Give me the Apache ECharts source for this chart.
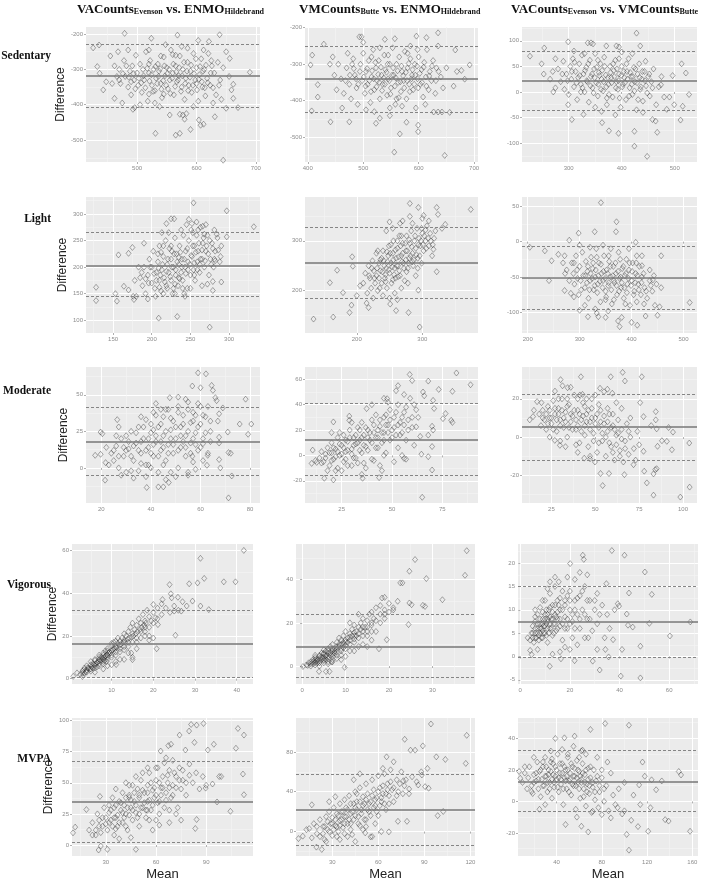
<!DOCTYPE html>
<html><head><meta charset="utf-8">
<script src="https://cdn.jsdelivr.net/npm/echarts@6/dist/echarts.min.js"></script>
<style>html,body{margin:0;padding:0;background:#fff}#c{width:709px;height:882px}</style>
</head><body><div id="c"></div><script>
// ---------------- DATA (mean, difference) ----------------
const colTitles = [
  ['VACounts','Evenson',' vs. ENMO','Hildebrand'],
  ['VMCounts','Butte',' vs. ENMO','Hildebrand'],
  ['VACounts','Evenson',' vs. VMCounts','Butte']
];
const rowNames = ['Sedentary','Light','Moderate','Vigorous','MVPA'];

const sedVAvsENMO = [[479,-198],[639,-202],[524,-212],[568,-203],[603,-218],[621,-221],[426,-239],[436,-231],[531,-481],[565,-486],[572,-481],[590,-470],[604,-443],[607,-458],[612,-455],[631,-434],[645,-557],[690,-308],[656,-269],[670,-408],[650,-410],[662,-382],[659,-358],[662,-342],[493,-413],[496,-408],[443,-358],[448,-335],[437,-311],[433,-292],[580,-441],[583,-425],[577,-429],[572,-427],[555,-429],
[455,-262],[462,-290],[470,-300],[472,-340],[478,-275],[480,-320],[485,-350],[488,-305],[490,-372],[492,-290],[495,-330],[498,-260],[500,-310],[502,-345],[505,-285],[508,-365],[510,-300],[512,-330],[515,-250],[518,-390],[520,-310],[522,-275],[525,-345],[528,-300],[530,-360],[532,-325],[535,-285],[537,-305],[540,-340],[542,-380],[545,-265],[547,-318],[550,-295],[552,-355],[555,-330],[557,-245],[560,-310],[562,-372],[565,-290],[567,-335],[570,-318],[572,-262],[575,-350],[577,-300],[580,-385],[582,-325],[585,-280],[587,-345],[590,-305],[592,-365],[595,-255],[598,-330],[600,-295],[603,-390],[605,-315],[608,-270],[610,-350],[613,-300],[615,-375],[618,-325],[620,-255],[623,-345],[626,-290],[630,-310],[633,-372],[636,-280],[640,-330],[645,-295],[650,-250],[655,-320],[462,-382],[475,-395],[505,-400],[520,-245],[538,-405],[548,-230],[485,-245],[468,-250],[612,-245],[628,-395],[642,-385],[470,-330],[458,-340],[530,-395],[545,-370],[565,-260],[575,-235],[595,-405],[600,-340],[585,-240],[520,-370]];
const sedVAvsENMOcore = [[503,-325],[507,-338],[511,-318],[514,-352],[517,-297],[521,-333],[524,-315],[527,-362],[531,-292],[534,-340],[536,-320],[539,-298],[541,-356],[544,-332],[546,-290],[549,-345],[551,-312],[554,-300],[556,-368],[559,-325],[561,-285],[564,-348],[566,-307],[569,-330],[571,-295],[574,-362],[576,-318],[579,-280],[581,-340],[584,-305],[586,-360],[589,-322],[591,-288],[594,-345],[596,-312],[599,-270],[601,-358],[604,-328],[606,-292],[609,-335],[611,-305],[614,-352],[616,-288],[619,-338],[624,-310],[628,-352],[490,-335],[494,-312],[497,-355],[486,-322],[482,-290],[476,-312],[466,-320],[625,-275],[638,-345],[560,-258],[540,-262],[520,-285]];

const sedVMvsENMO = [[635,-214],[596,-223],[614,-227],[493,-225],[497,-225],[557,-230],[539,-232],[429,-245],[408,-275],[405,-302],[418,-356],[418,-390],[407,-428],[441,-458],[475,-458],[666,-261],[692,-302],[677,-317],[669,-320],[683,-341],[663,-360],[644,-365],[656,-432],[642,-431],[635,-431],[627,-431],[566,-491],[556,-541],[647,-550],[599,-485],[599,-467],[578,-459],[523,-462],[548,-441],[530,-448],
[455,-300],[460,-340],[465,-380],[470,-310],[475,-355],[478,-395],[482,-285],[485,-330],[488,-365],[490,-410],[495,-300],[498,-345],[500,-270],[503,-380],[505,-320],[508,-355],[510,-290],[513,-405],[515,-335],[518,-260],[520,-370],[523,-310],[525,-345],[528,-290],[530,-395],[533,-330],[535,-355],[538,-275],[540,-315],[543,-385],[545,-340],[548,-300],[550,-365],[553,-255],[555,-330],[558,-410],[560,-300],[563,-350],[565,-280],[568,-375],[570,-320],[573,-345],[575,-265],[578,-395],[580,-310],[583,-355],[585,-285],[588,-330],[590,-370],[593,-300],[595,-420],[598,-340],[600,-280],[603,-355],[605,-315],[608,-390],[610,-295],[613,-335],[615,-260],[618,-370],[620,-320],[623,-345],[626,-290],[630,-380],[632,-310],[635,-250],[640,-335],[612,-410],[530,-255],[548,-420],[472,-270],[462,-420],[585,-250],[505,-425],[520,-430],[500,-240],[480,-300],[570,-415],[598,-260],[448,-330],[452,-370],[440,-300],[445,-280],[650,-310]];
const sedVMvsENMOcore = [[501,-335],[504,-360],[507,-312],[511,-345],[514,-375],[516,-318],[519,-340],[522,-295],[524,-362],[527,-328],[529,-350],[532,-308],[534,-372],[537,-338],[539,-355],[542,-322],[544,-300],[547,-345],[549,-382],[552,-330],[554,-310],[557,-360],[559,-338],[562,-318],[564,-392],[567,-348],[569,-305],[572,-332],[574,-365],[577,-322],[579,-345],[582,-298],[584,-375],[587,-340],[589,-315],[592,-355],[594,-330],[597,-305],[599,-365],[602,-325],[606,-350],[609,-308],[614,-360],[619,-332],[624,-305],[494,-320],[491,-355],[487,-340],[483,-312],[476,-330],[468,-345],[631,-345],[636,-320],[515,-280],[545,-275],[580,-270],[560,-395]];

const sedVAvsVM = [[227,70],[254,86],[249,55],[253,35],[299,98],[336,96],[342,96],[346,94],[371,90],[390,90],[428,115],[435,90],[513,55],[521,37],[527,-5],[515,-28],[511,-55],[499,-25],[496,32],[467,-79],[448,-126],[424,-106],[424,-77],[394,-81],[376,-76],[363,-60],[306,-54],[328,-44],[299,-25],[323,0],[271,0],[275,8],[458,-54],[464,-57],[485,-34],[490,-10],[474,14],
[280,45],[285,20],[290,60],[292,5],[296,35],[300,-5],[303,50],[305,25],[308,65],[310,10],[313,40],[316,-15],[318,28],[320,55],[323,15],[325,72],[328,35],[330,0],[333,48],[335,20],[338,-20],[340,62],[342,30],[345,8],[348,45],[350,75],[352,18],[355,-8],[357,38],[360,55],[362,25],[365,2],[367,68],[370,33],[372,-25],[375,15],[378,50],[380,28],[383,-10],[385,42],[388,62],[390,20],[393,5],[395,35],[398,-30],[400,50],[402,15],[405,28],[408,-15],[410,40],[413,65],[415,8],[418,30],[420,-5],[423,48],[425,20],[428,-35],[430,35],[433,55],[435,5],[438,25],[440,-18],[443,40],[446,12],[450,30],[453,-8],[456,20],[460,45],[465,-25],[470,10],[475,30],[480,-10],[310,80],[350,-30],[400,78],[420,75],[445,60],[362,-38],[330,75],[270,40],[275,65],[265,25],[388,-45],[440,-40],[395,88]];
const sedVAvsVMcore = [[321,32],[326,8],[331,42],[334,22],[337,55],[341,12],[344,35],[347,-2],[349,28],[353,48],[356,15],[358,32],[361,5],[363,42],[366,20],[368,50],[371,10],[374,28],[376,-5],[379,38],[381,18],[384,55],[386,30],[389,8],[391,45],[394,22],[396,-12],[399,32],[401,10],[404,40],[406,18],[409,55],[411,25],[414,-8],[416,38],[419,15],[421,30],[424,2],[426,45],[429,18],[431,-15],[434,28],[436,10],[439,40],[444,22],[448,-2],[452,35],[458,8],[306,40],[311,58],[315,18],[298,22],[288,35],[395,65],[355,62],[372,-12]];

const lightVAvsENMO = [[128,162],[128,137],[157,223],[155,136],[153,150],[170,226],[175,237],[190,245],[209,104],[233,107],[275,87],[254,321],[297,306],[332,276],[297,257],[290,172],[279,156],[279,173],[229,291],[225,291],[219,282],[213,265],[252,282],[266,277],[281,270],[282,212],[243,145],[177,139],[176,145],[170,157],[164,164],
[185,180],[188,165],[190,200],[192,150],[195,185],[197,215],[200,170],[200,200],[202,230],[204,160],[206,190],[208,210],[210,175],[210,240],[212,155],[213,195],[215,220],[216,180],[218,250],[219,165],[220,205],[222,190],[223,235],[225,175],[225,215],[227,150],[228,200],[230,255],[231,185],[232,225],[234,165],[235,205],[236,240],[238,190],[239,215],[240,175],[241,260],[243,200],[244,230],[246,160],[247,210],[248,250],[250,185],[251,270],[252,220],[254,195],[255,240],[256,175],[258,260],[259,210],[260,230],[262,190],[263,275],[265,215],[266,245],[268,200],[270,230],[272,260],[274,185],[276,215],[278,245],[280,200],[282,230],[285,255],[288,210],[290,240],[245,280],[238,270],[222,265],[215,150],[205,145],[195,140],[230,150],[250,160],[265,165],[272,168],[183,200],[178,175],[180,145],[258,285],[248,290],[225,240],[212,228],[236,178],[228,160],[242,150],[284,262],[270,280]];
const lightVAvsENMOcore = [[203,188],[206,175],[209,198],[211,185],[214,205],[217,172],[219,192],[221,215],[224,182],[226,200],[229,225],[231,195],[233,210],[235,180],[237,228],[239,200],[242,215],[244,188],[246,235],[249,205],[251,222],[253,240],[255,208],[257,228],[259,195],[261,245],[263,215],[265,232],[267,255],[269,212],[271,240],[273,225],[275,250],[277,205],[279,235],[281,215],[286,232],[289,220],[230,168],[240,160],[220,160],[210,162],[255,185],[262,205],[247,195],[235,218],[226,230],[215,240],[208,225],[198,200],[196,170],[192,178],[187,190],[253,265],[260,270],[268,262]];

const lightVMvsENMO = [[134,143],[164,147],[159,216],[170,241],[179,196],[189,156],[192,171],[194,249],[193,268],[218,166],[251,173],[260,160],[279,156],[296,127],[294,201],[281,375],[294,367],[322,367],[324,353],[374,363],[335,333],[330,325],[322,238],[317,283],[250,338],[266,335],[281,349],[302,351],
[210,215],[213,235],[216,195],[218,250],[220,225],[222,205],[224,260],[226,240],[228,215],[230,275],[230,230],[232,200],[234,255],[236,240],[238,215],[240,280],[241,260],[243,225],[245,245],[246,205],[248,270],[249,290],[250,235],[252,255],[253,215],[255,275],[256,300],[258,245],[259,225],[260,265],[262,285],[263,250],[265,310],[266,230],[268,270],[270,295],[271,255],[273,220],[275,280],[276,310],[278,245],[280,265],[281,295],[283,320],[285,275],[286,250],[288,300],[290,285],[292,325],[293,265],[295,305],[297,290],[299,255],[300,315],[302,280],[305,300],[307,330],[310,290],[312,315],[315,270],[318,305],[320,320],[258,195],[268,205],[240,190],[225,185],[215,175],[205,210],[200,190],[245,320],[255,325],[270,340],[285,335],[300,345],[310,340],[232,280],[278,215],[290,230],[250,185],[262,182]];
const lightVMvsENMOcore = [[231,245],[234,225],[236,262],[239,238],[242,250],[244,232],[247,258],[249,242],[251,275],[254,248],[256,262],[257,232],[259,282],[261,250],[264,268],[265,240],[267,290],[269,258],[270,275],[272,245],[274,295],[275,262],[277,280],[279,255],[280,302],[282,270],[284,288],[287,262],[289,310],[291,272],[294,292],[296,270],[298,300],[301,292],[303,310],[306,285],[309,305],[313,300],[316,292],[246,278],[252,292],[262,300],[268,310],[238,265],[244,218],[255,222],[263,228],[276,238],[285,258],[293,245],[227,225],[223,245],[219,230],[235,205],[299,325],[305,322]];

const lightVAvsVM = [[204,-8],[233,-13],[246,-27],[241,-55],[259,-18],[271,-20],[272,-45],[271,-69],[283,-73],[289,-78],[280,2],[298,12],[300,-97],[316,-106],[329,14],[341,55],[371,28],[370,14],[333,-101],[336,-106],[350,-107],[374,-112],[377,-120],[381,-107],[400,-114],[411,-118],[408,-1],[420,-20],[457,-20],[420,-34],[427,-105],[450,-104],[454,-92],[512,-86],[457,-65],[441,-54],
[285,-30],[288,-45],[290,-60],[293,-20],[295,-40],[298,-75],[300,-35],[302,-55],[305,-15],[307,-48],[310,-65],[312,-28],[315,-42],[317,-80],[320,-55],[322,-22],[325,-38],[327,-68],[330,-50],[332,-10],[335,-60],[337,-30],[340,-85],[342,-45],[345,-55],[347,-20],[350,-70],[352,-40],[355,-62],[357,-28],[360,-50],[362,-88],[365,-35],[367,-58],[370,-45],[372,-75],[375,-15],[377,-52],[380,-65],[382,-38],[385,-80],[387,-48],[390,-25],[392,-60],[395,-40],[397,-90],[400,-55],[402,-30],[405,-70],[408,-45],[410,-85],[413,-60],[415,-35],[418,-75],[420,-50],[425,-65],[430,-80],[435,-55],[440,-70],[445,-90],[448,-60],[330,-95],[355,-98],[310,-90],[360,-10],[345,-5],[300,-5],[280,-55],[275,-40],[268,-30],[395,-10],[410,-20],[435,-40],[350,-82],[320,-8]];
const lightVAvsVMcore = [[311,-48],[314,-58],[316,-35],[319,-68],[321,-45],[324,-52],[326,-30],[329,-62],[331,-40],[334,-72],[336,-48],[339,-56],[341,-32],[344,-65],[346,-42],[349,-52],[351,-78],[354,-45],[356,-58],[359,-35],[361,-68],[364,-48],[366,-55],[369,-30],[371,-62],[374,-42],[376,-70],[379,-50],[381,-58],[384,-35],[386,-65],[389,-45],[391,-72],[394,-52],[396,-30],[399,-62],[401,-42],[404,-75],[407,-58],[411,-48],[414,-68],[419,-58],[423,-45],[428,-70],[333,-22],[356,-20],[378,-25],[303,-68],[296,-52],[289,-30],[366,-82],[388,-88],[409,-30],[437,-62],[443,-48],[424,-88]];

const modVAvsENMO = [[17.5,8.6],[19.7,9.3],[19.7,24.5],[20.4,23.4],[21.7,3.6],[21.5,-8.4],[26.4,33],[38.3,-13.4],[43,-13],[45,-13],[47.2,-10],[47.6,48],[51,48.4],[56.7,56],[59,65],[62.2,64.3],[60,54.8],[64.5,56.4],[65,53],[66,48],[66.5,46],[69,41],[67.5,37],[67,32],[67.5,21],[67.5,17],[67.5,5.7],[68,0],[71.3,-20.5],[71.3,10.5],[72.2,10],[71,24.5],[72.6,-5.5],[75.8,30],[78.2,47],[79.2,23],[80.5,30],[62.6,1.8],[62.9,8.6],[61,16.6],[56.7,8],[55,-3],
[24,10],[25,5],[26,15],[27,0],[28,20],[29,8],[30,-3],[31,13],[32,25],[33,5],[34,17],[35,-2],[35,28],[36,10],[37,20],[38,2],[38,33],[39,14],[40,24],[41,8],[41,38],[42,18],[43,-3],[43,28],[44,12],[45,22],[45,35],[46,5],[47,16],[47,40],[48,26],[49,10],[49,32],[50,20],[51,0],[51,42],[52,14],[52,28],[53,36],[54,8],[54,22],[55,45],[56,17],[56,31],[57,4],[57,38],[58,24],[59,12],[59,44],[60,30],[61,20],[62,35],[63,10],[63,42],[64,25],[42,44],[46,-8],[38,-6],[33,-7],[30,22],[28,-5],[36,35],[50,-6],[55,-5],[44,40],[40,0],[22,14],[23,2],[27,28],[54,47],[58,-1],[61,5]];
const modVAvsENMOcore = [[30,12],[31,18],[32,8],[33,15],[34,24],[35,12],[36,18],[37,28],[38,12],[39,20],[40,10],[40,30],[41,16],[42,22],[43,8],[44,18],[44,30],[45,14],[46,25],[47,10],[48,20],[48,34],[49,16],[50,28],[51,12],[52,22],[53,18],[53,30],[54,14],[55,25],[56,10],[57,20],[57,32],[58,16],[59,28],[60,14],[61,36],[62,24],[39,2],[45,2],[36,3],[48,-3],[32,-2],[29,14],[27,8],[26,22],[25,12],[42,36],[46,40],[51,38],[55,40],[58,36],[60,42],[64,32],[64,18],[41,26]];

const modVMvsENMO = [[10.6,4.2],[10.1,-6.3],[12.6,-5.5],[16.4,-18],[20.9,26.4],[20.9,-19.3],[28.8,27.7],[28.8,31],[35.4,-18],[43.6,-17.5],[37.4,36.9],[46,45],[47.6,44.7],[52,51],[53,55],[58.8,63.8],[60,59],[65.4,50],[66,47],[68,58.6],[70.4,43.4],[70.9,37],[69.9,23],[70.4,20],[69.9,7],[69.9,-11.5],[68,-1],[64.6,1],[65,-33],[73.2,52],[75.3,29],[76.6,33],[79.4,27.7],[80,26],[80,50.5],[82,65],[89,55.7],[68,16],[62,22.5],[56,-2.4],
[14,-2],[15,3],[16,-5],[17,1],[18,6],[19,-8],[20,2],[20,10],[21,-3],[22,5],[23,14],[23,-10],[24,0],[25,8],[26,-5],[26,16],[27,3],[28,11],[28,-8],[29,20],[30,5],[31,-2],[31,14],[32,9],[33,22],[33,-6],[34,12],[35,2],[35,26],[36,16],[37,7],[37,-10],[38,20],[39,12],[40,28],[40,-3],[41,18],[42,6],[42,32],[43,14],[44,23],[44,-8],[45,10],[46,30],[46,18],[47,2],[48,24],[49,36],[49,12],[50,20],[51,-5],[51,30],[52,16],[53,40],[53,6],[54,26],[55,18],[56,34],[57,12],[58,28],[59,45],[60,22],[61,8],[62,36],[63,30],[64,15],[30,26],[25,-12],[22,-12],[35,-15],[45,-12],[55,0],[18,-12],[12,-4],[40,40],[48,42],[56,48],[57,-3]];
const modVMvsENMOcore = [[19,2],[20,-4],[21,6],[22,-1],[23,3],[24,9],[25,1],[26,6],[27,-3],[27,12],[28,4],[29,14],[30,1],[31,8],[32,16],[32,-2],[33,10],[34,4],[34,20],[35,14],[36,8],[37,22],[38,14],[38,4],[39,18],[40,10],[41,24],[42,14],[43,20],[43,6],[44,28],[45,18],[46,12],[47,24],[47,32],[48,18],[49,28],[50,14],[51,22],[52,34],[53,24],[54,16],[55,30],[56,24],[57,38],[58,20],[60,30],[61,40],[36,-6],[30,-8],[41,-4],[46,0],[17,-2],[15,-6],[24,18],[20,18]];

const modVAvsVM = [[12.6,9],[14.5,10.7],[16.8,18.5],[19.3,18],[26.9,-1.7],[29.8,-4.3],[30.2,30],[31.3,26.8],[34.2,25.8],[41.8,31.5],[41.2,22],[42.7,22.3],[47,-11.3],[43.7,-11],[49.8,-13],[53,-19],[54.2,-25.3],[57.8,-19],[52.7,25.5],[55,23.7],[56.9,25],[58.8,31.5],[59.7,22.9],[65.6,33.8],[66.9,29.3],[66.6,-19.6],[71.8,-14.4],[75.6,18],[76.5,31.5],[77.5,10.7],[77.5,-7.4],[77.9,-17.8],[79.4,-23.9],[81.9,6],[84.5,13.3],[84.5,9],[85,4.3],[83.2,-19.2],[84.2,-17],[85,-16.5],[83.2,-30.3],[88,-1.9],[90.8,-2.2],[91.8,5],[93.7,-6.6],[94.3,2.6],[98.5,-31.3],[103.6,-3.1],[103.8,-26.1],[85.5,-4.8],
[18,12],[19,6],[20,14],[21,9],[22,4],[23,16],[24,10],[25,7],[26,19],[27,12],[28,3],[29,15],[30,9],[31,20],[32,5],[33,13],[34,0],[35,17],[36,8],[37,11],[38,22],[39,4],[40,14],[41,-3],[42,9],[43,18],[44,6],[45,12],[46,-5],[47,8],[48,15],[49,2],[50,10],[51,-8],[52,5],[53,14],[54,-2],[55,7],[56,-10],[57,3],[58,12],[59,-5],[60,6],[61,-12],[62,1],[63,9],[64,-7],[65,4],[66,-13],[67,-2],[68,7],[69,-9],[70,0],[72,-6],[74,3],[27,24],[33,-5],[45,20],[50,22],[40,-8],[30,-2],[47,-10],[62,18],[65,15],[70,10],[73,-12],[75,-4],[36,26],[24,0],[15,14]];
const modVAvsVMcore = [[20,10],[22,12],[23,7],[24,14],[25,10],[26,4],[27,15],[28,9],[29,12],[30,6],[31,14],[32,10],[33,8],[34,16],[35,5],[36,12],[37,4],[38,14],[39,9],[40,6],[41,12],[42,3],[43,11],[44,1],[45,8],[46,14],[47,4],[48,10],[49,-2],[50,7],[51,12],[52,-3],[53,8],[54,2],[55,11],[56,0],[57,8],[58,-3],[59,5],[60,-8],[61,4],[62,-4],[63,2],[64,-10],[65,-1],[67,-6],[69,3],[34,20],[29,20],[40,20],[44,16],[48,20],[52,17],[57,15],[60,12],[39,-4]];

const vigVAvsENMO = [[41.7,60],[31.3,56.3],[32.2,46.9],[30.6,44.8],[28.6,44.4],[23.9,44],[36.9,45.3],[39.7,45.3],[33.3,32.3],[31.3,34],[29.4,36.3],[25.9,38.1],[24.4,37.8],[24.2,39.7],[26.7,31.6],[25,31.6],[25.3,20.3],[20.8,14],[11.1,6.6],[8.3,8.4],[8.8,8],[15,8.9],[14.7,12],[1.7,2.7],[0.8,1.1],[20,34.7],[22.2,37],[21.1,25.3],
[2.5,2],[3,3.5],[3.5,2.5],[3.5,5],[4,4],[4,6],[4.5,5],[5,3.5],[5,6.5],[5,8],[5.5,5],[5.5,7],[6,6],[6,8.5],[6.5,7.5],[6.5,5.5],[7,9],[7,7],[7,11],[7.5,8.5],[7.5,10],[8,9],[8,12],[8,7],[8.5,10.5],[8.5,13],[9,11],[9,14],[9,9],[9.5,12.5],[10,13],[10,15.5],[10,11],[10.5,14],[10.5,17],[11,15],[11,12.5],[11.5,16.5],[11.5,19],[12,17.5],[12,14],[12.5,19],[13,18],[13,21],[13,15],[13.5,20],[14,22],[14,17],[14.5,24],[15,21],[15,26],[15,10],[15.5,23],[16,25],[16,19],[16.5,28],[17,26],[17,22],[17.5,30],[18,27],[18,24],[18.5,32],[19,29],[19,20],[20,31],[20,26],[21,33],[21,28],[22,35],[22,30],[23,33],[24,31],[25,34],[26,32],[27,36],[28,34],[12,9],[14,12],[16,14],[13,9],[11,8],[9,6],[20,19],[19,18],[18,20],[6,3],[3,1],[8,4.5],[10,6.5]];
const vigVAvsENMOcore = [[3,2.5],[3.2,4],[3.8,3.2],[4.2,5],[4.8,4.5],[5.2,5.5],[5.8,6.5],[6.2,7],[6.8,8],[7.2,8.5],[7.8,9.5],[8.2,10],[8.8,11],[9.2,12],[9.8,12],[10.2,13.5],[10.8,14],[11.2,14.5],[11.8,15.5],[12.2,16],[12.8,17],[13.2,17],[13.8,18.5],[14.2,19],[14.8,19.5],[15.2,20],[15.8,21],[16.2,22],[16.8,23],[17.2,24],[17.8,25],[18.2,26],[19.5,27],[20.5,28.5],[4,3],[5,4.5],[6,5],[7,6],[8,8],[9,10],[10,10],[11,11],[12,12.5],[13,13.5],[14,15],[15,17],[16,17],[17,19],[18,22],[19,24],[6,9],[7,10],[8,11],[9,13],[10,16.5],[11,17.5]];

const vigVMvsENMO = [[37.9,53.4],[37.5,42],[26,49.3],[24.7,43.9],[28.6,40.5],[32.3,30.7],[27.8,28.1],[28.3,27.6],[24.7,29.2],[25.2,28.4],[24.5,19.2],[22.6,38.5],[23.1,38.5],[19.5,12.2],[17.7,8],[9.8,-0.6],[6.8,1.9],[6.3,-2.5],[5.5,-2.5],[3.9,-2.5],[1.3,0.3],[0.2,-0.2],[18.4,31.5],[19,31.8],[21,26],
[1,0.5],[1.5,1.5],[2,0],[2,2],[2.5,1],[2.5,3],[3,2],[3,4],[3,0.5],[3.5,3],[3.5,1.5],[4,2.5],[4,5],[4,0],[4.5,4],[4.5,6],[5,3],[5,5.5],[5,1.5],[5.5,4.5],[5.5,7],[6,6],[6,3.5],[6,8],[6.5,5],[6.5,9],[7,7],[7,4.5],[7,10],[7.5,8],[7.5,6],[8,9],[8,11],[8,6.5],[8.5,10],[8.5,13],[9,8],[9,12],[9.5,10],[9.5,14],[10,11],[10,16],[10,8],[10.5,13],[11,15],[11,10],[11.5,17],[12,14],[12,19],[12,11],[12.5,16],[13,18],[13,13],[13.5,20],[14,16],[14,22],[14.5,18],[15,21],[15,14],[15.5,24],[16,19],[16,25],[16.5,22],[17,27],[17,16],[18,24],[18,28],[19,26],[19,22],[20,29],[21,27],[22,30],[9,3],[7,2],[10,4.5],[12,7],[14,10],[16,12],[15,9],[6,1],[11,20],[13,24],[5,7.5],[3,5]];
const vigVMvsENMOcore = [[2,1],[2.5,2],[3,1.5],[3.5,2.5],[4,3.5],[4,1.5],[4.5,3],[5,4],[5,2.5],[5.5,5],[5.5,3],[6,4.5],[6,7],[6.5,6],[7,5.5],[7,8],[7.5,7],[8,8],[8,5],[8.5,9],[9,10],[9,7],[9.5,11],[9.5,8.5],[10,12],[10,9.5],[10.5,11],[11,12],[11,13.5],[11.5,14],[12,12.5],[12,15.5],[12.5,14],[13,15],[13.5,17],[14,18],[14,14],[15,18],[15,16],[16,20],[16,16],[17,21],[18,20],[19,24],[20,25],[3,3],[4,4.5],[5,6],[6,2],[7,3],[8,3.5],[9,5],[11,7],[13,9]];

const vigVAvsVM = [[36.9,22.7],[42,21.7],[25.2,21.7],[25.6,20.8],[20.1,19.9],[50.2,18.1],[53,13.3],[43.8,13.6],[34.7,15.6],[39.3,11.3],[39.8,10.8],[42.9,9.1],[43.4,6.7],[45.3,6.3],[52,7.1],[60.3,4.4],[68.5,7.4],[48.4,2.2],[48.4,-4.6],[40.5,-4.2],[35.6,-0.1],[32,-2.9],[29.2,-1],[11.9,-2.1],[16.4,-0.5],[21.9,-0.9],[41,1.5],[37.4,3.6],[34.3,1.5],[31,1.5],[27.4,4],[4.6,0.4],[4,1.3],
[4,3.5],[4.5,5],[5,4],[5,6.5],[5.5,3],[6,5],[6,7.5],[6.5,4],[7,6],[7,9],[7.5,3.5],[8,5],[8,7],[8,10.5],[8.5,6],[9,8],[9,4],[9.5,6.5],[10,9],[10,5],[10,12],[10.5,7],[11,8],[11,3],[11.5,10],[12,6],[12,13.5],[12.5,8],[13,11],[13,4.5],[13.5,7],[14,9],[14,15],[14.5,5.5],[15,12],[15,8],[15.5,16],[16,6.5],[16,10],[17,14],[17,3.5],[18,8.5],[18,12],[19,17],[19,6],[20,10],[20,14],[21,7.5],[21,4],[22,12],[22,16.5],[23,9],[23,2.5],[24,13],[24,6],[25,10],[26,15],[26,4],[27,8],[28,12],[29,5.5],[30,10],[31,7],[33,11],[34,4],[35,9],[36,6],[9,12],[12,16],[14,17],[18,2],[16,1],[20,1.5],[7,1.5],[11,14.5],[6,10],[3,4],[13,0.5],[27,17.5],[38,10],[31,13.5],[24,18]];
const vigVAvsVMcore = [[5,5],[6,4],[6,6],[7,5],[7,7],[7.5,4.5],[8,6],[8,8],[8.5,4],[9,5.5],[9,7],[9,9.5],[9.5,5],[10,6.5],[10,8],[10.5,4.5],[10.5,10],[11,6],[11,7.5],[11,9],[11.5,5],[12,7],[12,8.5],[12,10.5],[12.5,6],[13,8],[13,9.5],[13.5,5],[14,7],[14,11],[14.5,8.5],[15,6],[15,9.5],[15.5,11],[16,8],[16,12.5],[17,7],[17,10],[18,6],[18,11],[19,8],[19,13],[20,7],[20,12],[21,9],[22,6],[22,10],[23,12.5],[24,8],[25,14],[26,9],[27,12],[28,8],[30,12],[32,9],[6,8.5]];

const mvpaVAvsENMO = [[10.4,9.8],[11.7,14.4],[18.4,28.5],[25.7,-4],[27,-0.8],[31,-3.5],[48,-3.5],[35.9,13],[31.9,32],[26.5,39],[44,38.3],[74.1,88.3],[81,96.8],[84.3,96.3],[88.4,97.6],[79.8,91.5],[83,82.4],[77.6,76.3],[69,80.9],[67.4,79.8],[62.8,75.5],[91,76.3],[94.6,80.9],[107.8,77.7],[109,93.6],[112.6,88.3],[112,57],[112.6,40.4],[104.5,27.1],[97.8,55],[99,55],[96.5,34.6],[93.8,49],[89.7,45.7],[83.5,13.3],[84.3,20.5],[54.8,27.9],
[20,12],[22,18],[24,8],[25,25],[26,15],[27,10],[28,22],[29,30],[30,17],[31,12],[32,26],[33,20],[34,38],[35,8],[35,30],[36,22],[37,15],[38,35],[39,28],[40,18],[40,42],[41,32],[42,25],[43,12],[44,40],[45,30],[46,20],[46,48],[47,35],[48,26],[49,45],[50,15],[50,38],[51,52],[52,30],[53,42],[54,22],[55,48],[55,35],[56,58],[57,28],[58,44],[59,38],[60,52],[60,20],[61,62],[62,35],[63,46],[64,55],[65,30],[65,66],[66,42],[67,50],[68,60],[69,38],[70,68],[70,48],[72,55],[73,30],[74,62],[75,45],[76,52],[78,40],[80,65],[82,50],[84,58],[86,45],[88,55],[90,48],[68,18],[62,16],[58,12],[45,6],[38,5],[55,62],[48,55],[42,50],[36,45],[75,20],[72,25],[66,70]];
const mvpaVAvsENMOcore = [[30,22],[32,18],[33,28],[35,22],[36,32],[37,24],[38,18],[39,34],[40,26],[41,22],[42,38],[43,30],[44,24],[45,36],[46,28],[47,42],[48,32],[49,22],[50,40],[51,30],[52,44],[53,34],[54,28],[55,42],[56,36],[57,50],[58,32],[59,46],[60,40],[61,34],[62,50],[63,40],[64,46],[66,36],[67,56],[68,46],[70,40],[71,58],[72,46],[74,52],[76,60],[78,50],[80,56],[28,15],[26,20],[24,12],[22,8],[34,15],[42,15],[50,25],[56,20],[62,25],[68,28],[44,48],[52,58],[60,62]];

const mvpaVMvsENMO = [[94.3,108],[117.6,96.6],[117,68.4],[77.2,92.6],[81,81.7],[84,81.7],[89,86],[97.8,75],[103.7,72.4],[92,63.4],[88.4,56.8],[86,46.8],[98.7,16],[102.3,20.2],[72.8,10.3],[66.9,-0.3],[78.7,10.3],[65.4,75],[63,63.4],[76.3,51],[80.1,42.8],[90.5,45.1],[92.8,43.5],[16.7,-6.3],[23.2,-17.9],[19.7,-15.6],[10.8,-4.6],[13.2,2],[8,-7],[16.7,26.9],[51.5,-1.3],[55,-5.3],
[15,3],[18,8],[20,-2],[22,12],[24,5],[25,-8],[26,15],[27,2],[28,20],[29,8],[30,-4],[30,14],[31,24],[32,6],[33,18],[34,0],[35,28],[35,11],[36,20],[37,4],[38,32],[38,15],[39,24],[40,8],[41,36],[42,18],[42,28],[43,-3],[44,12],[45,40],[45,24],[46,30],[47,15],[48,44],[48,6],[49,22],[50,35],[51,28],[52,48],[52,12],[53,38],[54,20],[55,30],[56,52],[56,-5],[57,42],[58,26],[59,34],[60,56],[60,16],[61,44],[62,30],[63,38],[64,58],[65,22],[66,48],[67,36],[68,62],[69,42],[70,30],[72,52],[73,40],[75,60],[77,46],[80,38],[82,55],[85,50],[88,60],[58,8],[62,0],[40,-5],[45,-10],[35,-8],[50,2],[28,30],[32,35],[44,52],[48,58],[70,70]];
const mvpaVMvsENMOcore = [[25,5],[27,10],[28,0],[30,8],[31,2],[32,12],[33,5],[34,16],[35,6],[36,12],[37,20],[38,8],[39,15],[40,22],[41,12],[42,8],[43,20],[44,28],[45,16],[46,22],[47,8],[48,30],[49,18],[50,26],[51,12],[52,32],[53,22],[54,28],[55,16],[56,36],[57,24],[58,32],[59,20],[60,40],[61,26],[62,34],[63,46],[64,28],[65,38],[66,42],[67,28],[68,50],[70,44],[72,36],[74,48],[76,38],[78,52],[20,5],[22,-5],[24,-2],[26,-10],[33,-5],[38,-2],[42,2],[52,5],[46,38]];

const mvpaVAvsVM = [[83,49.5],[104,48.4],[70,45.7],[47,40.4],[56,41.5],[39,40],[63,32.6],[102,-21],[104,-31],[68,-19.4],[62,-15.8],[48,-14.7],[121,-19],[158,-19],[136,-11.6],[139,-12.5],[128,7.4],[133,13],[148,19],[150,16.8],[116,25],[118,16],[124,13.7],[113,10.5],[108,4],[114,-2],[123,-4],[106,-12],[112,-16],[94,-4],[100,-6],[80,-8.4],[88,-10.5],[72,-6.3],[8,14.7],[12,22],[7,19],[18,6.3],
[10,12],[12,18],[14,8],[15,15],[16,22],[18,10],[19,5],[20,17],[22,13],[23,25],[24,8],[25,19],[26,3],[27,14],[28,22],[29,10],[30,28],[31,16],[32,6],[33,20],[34,12],[35,25],[36,2],[37,17],[38,9],[39,22],[40,14],[41,30],[42,6],[43,18],[44,11],[45,24],[46,-2],[47,15],[48,20],[49,8],[50,28],[51,13],[52,18],[53,4],[54,22],[55,10],[56,16],[57,-5],[58,26],[59,12],[60,19],[61,2],[62,14],[63,24],[64,8],[65,17],[66,-3],[67,11],[68,21],[69,5],[70,15],[71,-7],[72,9],[73,20],[74,1],[75,13],[76,28],[77,-4],[78,6],[80,15],[82,0],[84,10],[86,-6],[88,18],[90,4],[92,-2],[95,8],[100,12],[30,-2],[45,33],[55,35],[62,32],[20,28],[25,-5],[35,32],[58,-10],[66,30],[85,25],[98,-8]];
const mvpaVAvsVMcore = [[20,12],[22,18],[24,14],[26,20],[28,10],[30,16],[31,22],[32,12],[33,17],[34,8],[35,19],[36,14],[37,24],[38,12],[39,16],[40,20],[41,9],[42,15],[43,24],[44,14],[45,18],[46,8],[47,22],[48,13],[49,16],[50,20],[51,6],[52,14],[53,24],[54,11],[55,16],[56,21],[57,10],[58,15],[59,20],[60,8],[61,16],[62,12],[63,18],[64,3],[65,12],[66,20],[67,6],[68,14],[69,10],[70,22],[72,12],[74,6],[76,16],[78,10],[80,20],[82,8],[36,27],[50,30],[28,25],[60,28]];

// Bias (mean difference) and 95% limits of agreement, panel order row by row
const meanDiff   = [-319,-340,22, 203,257,-51, 18.2,12.5,5.5, 16.4,9.1,7.4, 34.6,21.6,12.8];
const upperLimit = [-228,-250,80, 265,328,-7, 41.6,41,22.6, 32.2,23.8,15, 67,57.4,32.2];
const lowerLimit = [-408,-431,-35, 146,185,-95, -5,-16,-12, 0.5,-5.3,-0.1, 2.5,-14,-6.1];

// axis extents and tick labels per panel
const xRange = [[414,707],[395,707],[212,542],[115,340],[121,385],[189,526],[13.8,84],[6.8,92.7],[8.2,108],[0.5,43.9],[-1.4,39.8],[-0.9,71.6],[9.8,118],[6.4,123],[6,165]];
const yRange = [[-562,-180],[-568,-198],[-137,127],[76,332],[115,388],[-129,63],[-24,69],[-37.5,69.7],[-34.4,36.6],[-2.5,63],[-8.3,56.5],[-5.9,24.1],[-8.8,102],[-24.5,114],[-34.7,53]];
const xTicks = [[500,600,700],[400,500,600,700],[300,400,500],[150,200,250,300],[200,300],[200,300,400,500],[20,40,60,80],[25,50,75],[25,50,75,100],[10,20,30,40],[0,10,20,30],[0,20,40,60],[30,60,90],[30,60,90,120],[40,80,120,160]];
const yTicks = [[-500,-400,-300,-200],[-500,-400,-300,-200],[-100,-50,0,50,100],[100,150,200,250,300],[200,300],[-100,-50,0,50],[0,25,50],[-20,0,20,40,60],[-20,0,20],[0,20,40,60],[0,20,40],[-5,0,5,10,15,20],[0,25,50,75,100],[0,40,80],[-20,0,20,40]];

const panels = [
  sedVAvsENMO.concat(sedVAvsENMOcore), sedVMvsENMO.concat(sedVMvsENMOcore), sedVAvsVM.concat(sedVAvsVMcore),
  lightVAvsENMO.concat(lightVAvsENMOcore), lightVMvsENMO.concat(lightVMvsENMOcore), lightVAvsVM.concat(lightVAvsVMcore),
  modVAvsENMO.concat(modVAvsENMOcore), modVMvsENMO.concat(modVMvsENMOcore), modVAvsVM.concat(modVAvsVMcore),
  vigVAvsENMO.concat(vigVAvsENMOcore), vigVMvsENMO.concat(vigVMvsENMOcore), vigVAvsVM.concat(vigVAvsVMcore),
  mvpaVAvsENMO.concat(mvpaVAvsENMOcore), mvpaVMvsENMO.concat(mvpaVMvsENMOcore), mvpaVAvsVM.concat(mvpaVAvsVMcore)];

// ---------------- LAYOUT ----------------
const colLeftA = [86,305,522], colWA = [174,173,175];
const colLeftB = [72,296,518], colWB = [181,179,180];
const rowTop = [27,197,367,544,718], rowH = [135,136,136,140,139];

function minors(t, r){
  const step = t.length>1 ? (t[1]-t[0]) : 100;
  const out = [];
  for (let v = t[0]-step/2; v >= r[0]; v -= step) out.push(v);
  for (let i=0;i<t.length;i++){ const v=t[i]+step/2; if (v<=r[1]) out.push(v); }
  return out.filter(v=>v>=r[0]&&v<=r[1]);
}

const grids=[], xAxes=[], yAxes=[], series=[];
const tickLbl = {fontSize:6, color:'#8c8c8c', fontFamily:'Liberation Sans, Arial'};
for (let i=0;i<15;i++){
  const r = Math.floor(i/3), c = i%3;
  const left = r<3 ? colLeftA[c] : colLeftB[c];
  const w = r<3 ? colWA[c] : colWB[c];
  grids.push({left:left, top:rowTop[r], width:w, height:rowH[r], show:true, backgroundColor:'#ebebeb', borderWidth:0, containLabel:false});
  const xm = minors(xTicks[i], xRange[i]), ym = minors(yTicks[i], yRange[i]);
  xAxes.push({type:'value', gridIndex:i, min:xRange[i][0], max:xRange[i][1],
    axisLine:{show:false}, axisTick:{show:true, length:2, lineStyle:{color:'#9a9a9a', width:0.8}, customValues:xTicks[i]},
    axisLabel:{...tickLbl, margin:3, customValues:xTicks[i]},
    splitLine:{show:true, lineStyle:{color:'#ffffff', width:1}},
    name: r===4 ? 'Mean' : '', nameLocation:'middle', nameGap:12,
    nameTextStyle:{fontSize:13, color:'#222', fontFamily:'Liberation Sans, Arial'}});
  yAxes.push({type:'value', gridIndex:i, min:yRange[i][0], max:yRange[i][1],
    axisLine:{show:false}, axisTick:{show:true, length:2, lineStyle:{color:'#9a9a9a', width:0.8}, customValues:yTicks[i]},
    axisLabel:{...tickLbl, margin:3, customValues:yTicks[i]},
    splitLine:{show:true, lineStyle:{color:'#ffffff', width:1}},
    name: c===0 ? 'Difference' : '', nameLocation:'middle', nameRotate:90, nameGap: r<3 ? 16 : 7,
    nameTextStyle:{fontSize:12, color:'#222', fontFamily:'Liberation Sans, Arial'}});
  // minor grid lines
  xAxes.push({type:'value', gridIndex:i, min:xRange[i][0], max:xRange[i][1], position:'top',
    axisLine:{show:false}, axisLabel:{show:false}, axisTick:{show:false, customValues:xm},
    splitLine:{show:true, lineStyle:{color:'#f5f5f5', width:0.6}}});
  yAxes.push({type:'value', gridIndex:i, min:yRange[i][0], max:yRange[i][1], position:'right',
    axisLine:{show:false}, axisLabel:{show:false}, axisTick:{show:false, customValues:ym},
    splitLine:{show:true, lineStyle:{color:'#f5f5f5', width:0.6}}});
}
for (let i=0;i<15;i++){
  series.push({type:'scatter', xAxisIndex:2*i, yAxisIndex:2*i, data:panels[i],
    symbol:'diamond', symbolSize:[5,6], silent:true,
    itemStyle:{color:'rgba(0,0,0,0)', borderColor:'rgba(35,35,35,0.6)', borderWidth:0.8},
    markLine:{silent:true, symbol:'none', label:{show:false}, animation:false,
      data:[
        {yAxis:meanDiff[i], lineStyle:{type:'solid', color:'#777777', width:1.6}},
        {yAxis:upperLimit[i], lineStyle:{type:[3,2], color:'#858585', width:1.2}},
        {yAxis:lowerLimit[i], lineStyle:{type:[3,2], color:'#858585', width:1.2}}
      ]}
  });
}

const titleLeft = [77,299,511];
const graphics = [];
for (let c=0;c<3;c++){
  const t = colTitles[c];
  graphics.push({type:'text', left:titleLeft[c], top:3,
    style:{text:'{m|'+t[0]+'}{s|'+t[1]+'}{m|'+t[2]+'}{s|'+t[3]+'}',
      rich:{m:{fontSize:13, fontWeight:'bold', fontFamily:'Liberation Serif, Times New Roman', fill:'#111', verticalAlign:'bottom', lineHeight:16},
            s:{fontSize:8, fontWeight:'bold', fontFamily:'Liberation Serif, Times New Roman', fill:'#111', verticalAlign:'bottom', lineHeight:13}}}});
}
const rowLabelY = [57,220,392,586,760];
for (let r=0;r<5;r++){
  graphics.push({type:'text', right:709-51, top:rowLabelY[r]-7,
    style:{text:rowNames[r], fontSize:11.5, fontWeight:'bold', fontFamily:'Liberation Serif, Times New Roman', fill:'#111'}});
}

const chart = echarts.init(document.getElementById('c'), null, {renderer:'canvas'});
chart.setOption({animation:false, backgroundColor:'#ffffff', grid:grids, xAxis:xAxes, yAxis:yAxes, series:series, graphic:graphics});
</script></body></html>
